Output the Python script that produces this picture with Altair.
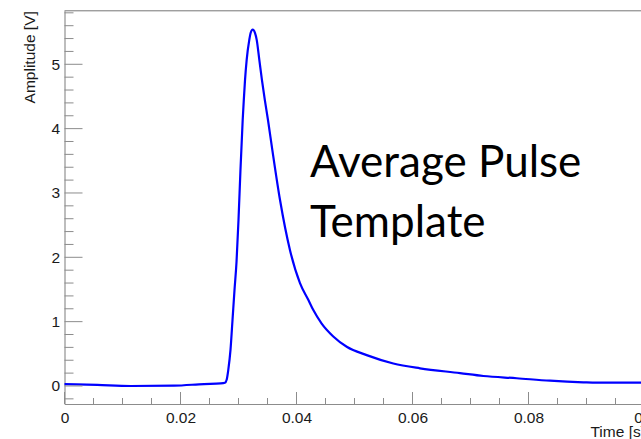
import altair as alt
import pandas as pd

# Averaged pulse: time [s] and amplitude [V]
time_s = [0.0, 0.00566, 0.01141, 0.01888, 0.02405, 0.02693, 0.02767, 0.02797,
          0.02824, 0.02862, 0.02897, 0.02931, 0.02966, 0.03000, 0.03034, 0.03072,
          0.03091, 0.03112, 0.03141, 0.03186, 0.03210, 0.03245, 0.03284, 0.03314,
          0.03359, 0.03405, 0.03455, 0.03509, 0.03583, 0.03716, 0.03888, 0.04060,
          0.04203, 0.04290, 0.04434, 0.04634, 0.04866, 0.05210, 0.05669, 0.06129,
          0.06819, 0.07221, 0.07797, 0.08371, 0.08945, 0.09176, 0.0994]
amplitude_v = [0.03, 0.016, 0.0, 0.005, 0.03, 0.04, 0.05, 0.10,
               0.25, 0.56, 1.03, 1.49, 1.93, 2.58, 3.36, 4.13,
               4.44, 4.75, 5.07, 5.38, 5.49, 5.54, 5.49, 5.38,
               5.07, 4.75, 4.44, 4.13, 3.67, 2.89, 2.11, 1.60,
               1.34, 1.18, 0.97, 0.77, 0.61, 0.48, 0.35, 0.275,
               0.20, 0.155, 0.12, 0.082, 0.057, 0.051, 0.051]

# Axis ticks
x_major = [0.0, 0.02, 0.04, 0.06, 0.08, 0.1]
x_minor = [0.005, 0.01, 0.015, 0.025, 0.03, 0.035, 0.045, 0.05, 0.055,
           0.065, 0.07, 0.075, 0.085, 0.09, 0.095]
y_major = [0, 1, 2, 3, 4, 5]
y_minor = [-0.2, 0.2, 0.4, 0.6, 0.8, 1.2, 1.4, 1.6, 1.8, 2.2, 2.4, 2.6, 2.8,
           3.2, 3.4, 3.6, 3.8, 4.2, 4.4, 4.6, 4.8, 5.2, 5.4, 5.6, 5.8]

annotation = ["Average Pulse", "Template"]

W = 576.5
H = 393.3
AX = "#8c8c8c"
INK = "#1a1a1a"
FONT = "Liberation Sans"

xs = alt.Scale(domain=[0, 0.1], range=[0, 580], nice=False, zero=False)
ys = alt.Scale(domain=[-0.28, 5.833], nice=False, zero=False)

x_axis = alt.Axis(values=x_major, format="~g", ticks=False, grid=False,
                  domainColor=AX, labelFlush=False, labelPadding=6,
                  labelFontSize=15.5, labelFont=FONT, labelColor=INK,
                  titleFont=FONT, titleFontSize=15.5, titleFontWeight="normal",
                  titleColor=INK, titleAnchor="end", titleAlign="right",
                  titleX=580, titleY=27, titleBaseline="middle")
y_axis = alt.Axis(values=y_major, ticks=False, grid=False, domainColor=AX,
                  labelPadding=5, labelFontSize=15.5, labelFont=FONT,
                  labelColor=INK, titleFont=FONT, titleFontSize=15.5,
                  titleFontWeight="normal", titleColor=INK,
                  titleAngle=270, titleAlign="right", titleX=-35.5, titleY=0,
                  titleBaseline="middle")

X = lambda: alt.X("x:Q", scale=xs, title="Time [s]", axis=x_axis)
Y = lambda: alt.Y("y:Q", scale=ys, title="Amplitude [V]", axis=y_axis)

pulse_df = pd.DataFrame({"x": time_s, "y": amplitude_v})

pulse = alt.Chart(pulse_df).mark_line(
    color="#0000ff", strokeWidth=2.2, interpolate="monotone"
).encode(x=X(), y=Y())


def xticks(vals, length):
    return alt.Chart(pd.DataFrame({"x": vals})).mark_rule(color=AX, strokeWidth=1).encode(
        x=X(), y=alt.value(H), y2=alt.value(H - length),
    )


def yticks(vals, length):
    return alt.Chart(pd.DataFrame({"y": vals})).mark_rule(color=AX, strokeWidth=1).encode(
        y=Y(), x=alt.value(0), x2=alt.value(length),
    )


top_frame = alt.Chart(pd.DataFrame({"k": [0]})).mark_rule(color=AX, strokeWidth=1).encode(
    x=alt.value(0), x2=alt.value(W), y=alt.value(0)
)

label = alt.Chart(pd.DataFrame({"txt": [annotation]})).mark_text(
    font="Lato", fontSize=44, align="left", baseline="alphabetic",
    lineHeight=60, color="#000000"
).encode(text="txt", x=alt.value(245.5), y=alt.value(166.5))

chart = alt.layer(
    pulse,
    xticks(x_major, 12), xticks(x_minor, 6),
    yticks(y_major, 18), yticks(y_minor, 9),
    top_frame, label,
).properties(
    width=W, height=H,
    autosize=alt.AutoSizeParams(type="none"),
    padding={"left": 64.5, "top": 10.7, "right": 0, "bottom": 35},
).configure_view(stroke=None).configure(background="white")

chart.save("out.html", embed_options={"renderer": "svg", "actions": False})
